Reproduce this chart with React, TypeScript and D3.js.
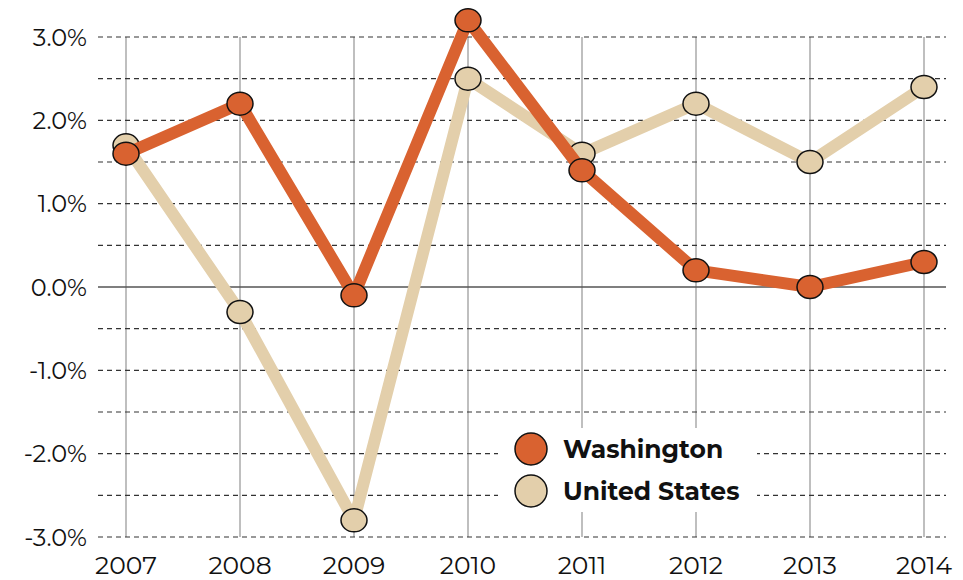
import * as d3 from 'd3'
import React, { useEffect, useRef } from 'react'

const years = ['2007', '2008', '2009', '2010', '2011', '2012', '2013', '2014']
const washington = [1.6, 2.2, -0.1, 3.2, 1.4, 0.2, 0.0, 0.3]
const unitedStates = [1.7, -0.3, -2.8, 2.5, 1.6, 2.2, 1.5, 2.4]
const yTicks = [3, 2, 1, 0, -1, -2, -3]
const gridLines = [3, 2.5, 2, 1.5, 1, 0.5, -0.5, -1, -1.5, -2, -2.5, -3]

const seriesList = [
  { name: 'United States', values: unitedStates, color: '#E3CFAB' },
  { name: 'Washington', values: washington, color: '#D96230' }
]

const width = 963
const height = 580

const App = () => {
  const svgRef = useRef(null)

  useEffect(() => {
    const svg = d3.select(svgRef.current)
    svg.selectAll('*').remove()

    const font = 'Montserrat, Lato, "Open Sans", sans-serif'

    // scales
    const x = d3.scalePoint().domain(years).range([126, 924])
    const y = d3.scaleLinear().domain([-3, 3]).range([537, 37])

    // vertical grid
    svg
      .append('g')
      .selectAll('line')
      .data(years)
      .enter()
      .append('line')
      .attr('x1', (d) => x(d))
      .attr('x2', (d) => x(d))
      .attr('y1', y(3))
      .attr('y2', y(-3))
      .attr('stroke', '#aaaaaa')
      .attr('stroke-width', 1.5)

    // dashed horizontal grid
    svg
      .append('g')
      .selectAll('line')
      .data(gridLines)
      .enter()
      .append('line')
      .attr('x1', 98)
      .attr('x2', 946)
      .attr('y1', (d) => y(d))
      .attr('y2', (d) => y(d))
      .attr('stroke', '#333333')
      .attr('stroke-width', 1.2)
      .attr('stroke-dasharray', '5,4')

    // zero line
    svg
      .append('line')
      .attr('x1', 98)
      .attr('x2', 946)
      .attr('y1', y(0))
      .attr('y2', y(0))
      .attr('stroke', '#555555')
      .attr('stroke-width', 1.5)

    // y labels
    svg
      .append('g')
      .selectAll('text')
      .data(yTicks)
      .enter()
      .append('text')
      .attr('x', 87)
      .attr('y', (d) => y(d) + 8.5)
      .attr('text-anchor', 'end')
      .style('font-family', font)
      .style('font-size', '24px')
      .style('fill', '#111')
      .text((d) => `${d.toFixed(1)}%`)

    // x labels
    svg
      .append('g')
      .selectAll('text')
      .data(years)
      .enter()
      .append('text')
      .attr('x', (d) => x(d))
      .attr('y', 574)
      .attr('text-anchor', 'middle')
      .style('font-family', font)
      .style('font-size', '25px')
      .style('fill', '#111')
      .text((d) => d)

    const line = d3
      .line()
      .x((d, i) => x(years[i]))
      .y((d) => y(d))

    seriesList.forEach((s) => {
      svg
        .append('path')
        .datum(s.values)
        .attr('fill', 'none')
        .attr('stroke', s.color)
        .attr('stroke-width', 12)
        .attr('stroke-linejoin', 'round')
        .attr('d', line)

      svg
        .append('g')
        .selectAll('ellipse')
        .data(s.values)
        .enter()
        .append('ellipse')
        .attr('cx', (d, i) => x(years[i]))
        .attr('cy', (d) => y(d))
        .attr('rx', 13)
        .attr('ry', 11.5)
        .attr('fill', s.color)
        .attr('stroke', '#111')
        .attr('stroke-width', 1.5)
    })

    // legend with white box
    svg
      .append('rect')
      .attr('x', 498)
      .attr('y', 428)
      .attr('width', 259)
      .attr('height', 84)
      .attr('fill', '#ffffff')

    const legend = svg.append('g').attr('transform', 'translate(531,449)')
    ;[seriesList[1], seriesList[0]].forEach((s, i) => {
      legend
        .append('circle')
        .attr('cx', 0)
        .attr('cy', i * 42)
        .attr('r', 16)
        .attr('fill', s.color)
        .attr('stroke', '#111')
        .attr('stroke-width', 1.5)
      legend
        .append('text')
        .attr('x', 32)
        .attr('y', i * 42 + 9)
        .style('font-family', font)
        .style('font-size', '25px')
        .style('font-weight', 'bold')
        .style('fill', '#111')
        .text(s.name)
    })
  }, [])

  return (
    <div style={ { position: 'absolute', left: 0, top: 0, background: '#fff' } }>
      <svg ref={ svgRef } width={ width } height={ height }></svg>
    </div>
  )
}

export default App
